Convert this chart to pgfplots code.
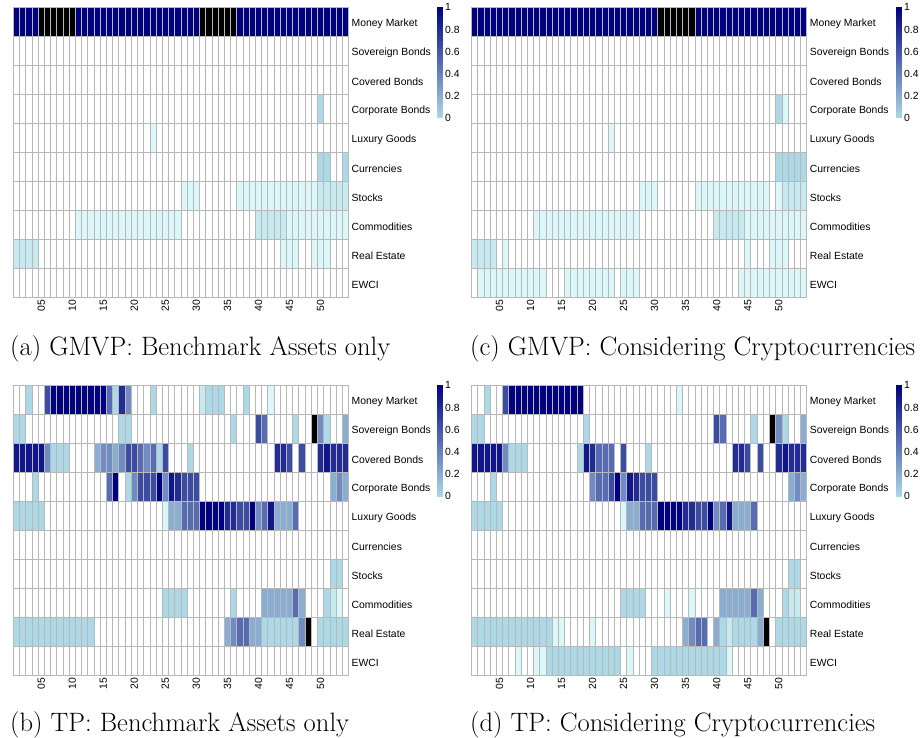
\documentclass[border=0pt]{standalone}
\usepackage{fontspec}
\setsansfont{Liberation Sans}
\usepackage{pgfplots}
\usepackage{pgfplotstable}
\pgfplotsset{compat=1.18}

% colour index: 0 white, 1-2 pale cyan, 3-10 lightblue -> navy, 11 black
\pgfplotsset{
  colormap={cells}{rgb255=(255,255,255) rgb255=(220,247,250) rgb255=(199,233,240)
    rgb255=(173,216,230) rgb255=(138,173,210) rgb255=(112,140,194) rgb255=(87,108,179)
    rgb255=(61,76,163) rgb255=(35,43,148) rgb255=(17,22,138) rgb255=(0,0,128) rgb255=(0,0,0)},
  colormap={cbar}{rgb255=(173,216,230) rgb255=(0,0,128)},
  heat/.style={
    scale only axis, width=335.2pt, height=289.7pt, anchor=north west,
    xmin=0.5, xmax=54.5, ymin=0.5, ymax=10.5, y dir=reverse,
    xtick={5,10,...,50}, xticklabels={05,10,15,20,25,30,35,40,45,50},
    ytick={1,...,10},
    yticklabels={Money Market,Sovereign Bonds,Covered Bonds,Corporate Bonds,Luxury Goods,
      Currencies,Stocks,Commodities,Real Estate,EWCI},
    yticklabel pos=right,
    tick label style={font=\sffamily\fontsize{10.4}{12}\selectfont},
    xticklabel style={rotate=90, anchor=east, inner sep=0pt},
    yticklabel style={anchor=west, inner sep=0pt, yshift=-2pt},
    xticklabel shift=3pt, yticklabel shift=3pt,
    major tick length=0pt, minor tick length=0pt, tick style={draw=none},
    minor xtick={0.5,1.5,...,54.5}, minor ytick={0.5,1.5,...,10.5},
    xminorgrids, yminorgrids,
    minor grid style={black!28, line width=0.7pt},
    axis line style={black!28, line width=0.7pt},
    axis on top,
    colormap name=cells, point meta min=0, point meta max=11,
  },
  cb/.style={
    scale only axis, width=5pt, height=110.7pt, anchor=north west,
    xmin=0, xmax=1, ymin=0, ymax=1,
    xtick=\empty, ytick={0,0.2,0.4,0.6,0.8,1}, yticklabels={0,0.2,0.4,0.6,0.8,1},
    yticklabel pos=right, axis line style={draw=none},
    major tick length=0pt, tick style={draw=none},
    tick label style={font=\sffamily\fontsize{10.4}{12}\selectfont},
    yticklabel style={anchor=west, inner sep=0pt}, yticklabel shift=3pt,
    colormap name=cbar, point meta min=0, point meta max=1,
  },
}

% one value per cell, rows of the heatmap top to bottom, 54 periods each
\pgfplotstableread[header=false, row sep=\\]{
% Money Market
10\\10\\10\\10\\11\\11\\11\\11\\11\\
11\\10\\10\\10\\10\\10\\10\\10\\10\\
10\\10\\10\\10\\10\\10\\10\\10\\10\\
10\\10\\10\\11\\11\\11\\11\\11\\11\\
10\\10\\10\\10\\10\\10\\10\\10\\10\\
10\\10\\10\\10\\10\\10\\10\\10\\10\\
% Sovereign Bonds
0\\0\\0\\0\\0\\0\\0\\0\\0\\
0\\0\\0\\0\\0\\0\\0\\0\\0\\
0\\0\\0\\0\\0\\0\\0\\0\\0\\
0\\0\\0\\0\\0\\0\\0\\0\\0\\
0\\0\\0\\0\\0\\0\\0\\0\\0\\
0\\0\\0\\0\\0\\0\\0\\0\\0\\
% Covered Bonds
0\\0\\0\\0\\0\\0\\0\\0\\0\\
0\\0\\0\\0\\0\\0\\0\\0\\0\\
0\\0\\0\\0\\0\\0\\0\\0\\0\\
0\\0\\0\\0\\0\\0\\0\\0\\0\\
0\\0\\0\\0\\0\\0\\0\\0\\0\\
0\\0\\0\\0\\0\\0\\0\\0\\0\\
% Corporate Bonds
0\\0\\0\\0\\0\\0\\0\\0\\0\\
0\\0\\0\\0\\0\\0\\0\\0\\0\\
0\\0\\0\\0\\0\\0\\0\\0\\0\\
0\\0\\0\\0\\0\\0\\0\\0\\0\\
0\\0\\0\\0\\0\\0\\0\\0\\0\\
0\\0\\0\\0\\3\\0\\0\\0\\0\\
% Luxury Goods
0\\0\\0\\0\\0\\0\\0\\0\\0\\
0\\0\\0\\0\\0\\0\\0\\0\\0\\
0\\0\\0\\0\\1\\0\\0\\0\\0\\
0\\0\\0\\0\\0\\0\\0\\0\\0\\
0\\0\\0\\0\\0\\0\\0\\0\\0\\
0\\0\\0\\0\\0\\0\\0\\0\\0\\
% Currencies
0\\0\\0\\0\\0\\0\\0\\0\\0\\
0\\0\\0\\0\\0\\0\\0\\0\\0\\
0\\0\\0\\0\\0\\0\\0\\0\\0\\
0\\0\\0\\0\\0\\0\\0\\0\\0\\
0\\0\\0\\0\\0\\0\\0\\0\\0\\
0\\0\\0\\0\\3\\3\\0\\0\\3\\
% Stocks
0\\0\\0\\0\\0\\0\\0\\0\\0\\
0\\0\\0\\0\\0\\0\\0\\0\\0\\
0\\0\\0\\0\\0\\0\\0\\0\\0\\
1\\1\\1\\0\\0\\0\\0\\0\\0\\
1\\1\\1\\1\\1\\1\\1\\1\\1\\
1\\1\\1\\1\\2\\2\\2\\2\\2\\
% Commodities
0\\0\\0\\0\\0\\0\\0\\0\\0\\
0\\1\\1\\1\\1\\1\\1\\1\\1\\
1\\1\\1\\1\\1\\1\\1\\1\\1\\
0\\0\\0\\0\\0\\0\\0\\0\\0\\
0\\0\\0\\2\\2\\2\\2\\2\\1\\
1\\1\\1\\1\\1\\1\\1\\1\\1\\
% Real Estate
2\\2\\2\\2\\0\\0\\0\\0\\0\\
0\\0\\0\\0\\0\\0\\0\\0\\0\\
0\\0\\0\\0\\0\\0\\0\\0\\0\\
0\\0\\0\\0\\0\\0\\0\\0\\0\\
0\\0\\0\\0\\0\\0\\0\\1\\1\\
1\\0\\0\\1\\1\\1\\0\\0\\0\\
% EWCI
0\\0\\0\\0\\0\\0\\0\\0\\0\\
0\\0\\0\\0\\0\\0\\0\\0\\0\\
0\\0\\0\\0\\0\\0\\0\\0\\0\\
0\\0\\0\\0\\0\\0\\0\\0\\0\\
0\\0\\0\\0\\0\\0\\0\\0\\0\\
0\\0\\0\\0\\0\\0\\0\\0\\0\\
}\tabA

\pgfplotstableread[header=false, row sep=\\]{
% Money Market
0\\0\\3\\0\\0\\7\\10\\10\\10\\
10\\10\\10\\10\\10\\10\\6\\3\\8\\
5\\0\\0\\0\\3\\0\\0\\0\\0\\
0\\0\\0\\2\\3\\3\\3\\0\\0\\
0\\3\\0\\0\\0\\1\\0\\0\\0\\
0\\0\\0\\0\\0\\0\\0\\0\\0\\
% Sovereign Bonds
3\\3\\0\\0\\0\\0\\0\\0\\0\\
0\\0\\0\\0\\0\\0\\0\\0\\3\\
3\\0\\0\\0\\0\\0\\0\\0\\0\\
0\\0\\0\\0\\0\\0\\0\\0\\3\\
0\\0\\0\\7\\6\\0\\0\\0\\0\\
3\\0\\0\\11\\5\\3\\0\\0\\4\\
% Covered Bonds
9\\9\\9\\9\\9\\5\\3\\3\\3\\
0\\0\\0\\0\\4\\5\\5\\4\\5\\
7\\7\\6\\5\\6\\3\\7\\0\\0\\
0\\3\\0\\0\\0\\0\\0\\0\\0\\
0\\0\\0\\0\\0\\0\\8\\8\\7\\
0\\7\\0\\0\\8\\9\\8\\8\\8\\
% Corporate Bonds
0\\0\\0\\3\\0\\0\\0\\0\\0\\
0\\0\\0\\0\\0\\0\\6\\10\\0\\
3\\5\\7\\7\\7\\10\\5\\9\\8\\
7\\7\\7\\0\\0\\0\\0\\0\\0\\
0\\0\\0\\0\\0\\0\\0\\0\\0\\
0\\0\\0\\0\\0\\0\\4\\5\\4\\
% Luxury Goods
3\\3\\3\\3\\3\\0\\0\\0\\0\\
0\\0\\0\\0\\0\\0\\0\\0\\0\\
0\\0\\0\\0\\0\\0\\1\\4\\4\\
6\\6\\6\\10\\10\\10\\10\\8\\8\\
7\\7\\10\\5\\6\\9\\4\\4\\4\\
6\\0\\0\\0\\0\\0\\0\\0\\0\\
% Currencies
0\\0\\0\\0\\0\\0\\0\\0\\0\\
0\\0\\0\\0\\0\\0\\0\\0\\0\\
0\\0\\0\\0\\0\\0\\0\\0\\0\\
0\\0\\0\\0\\0\\0\\0\\0\\0\\
0\\0\\0\\0\\0\\0\\0\\0\\0\\
0\\0\\0\\0\\0\\0\\0\\0\\0\\
% Stocks
0\\0\\0\\0\\0\\0\\0\\0\\0\\
0\\0\\0\\0\\0\\0\\0\\0\\0\\
0\\0\\0\\0\\0\\0\\0\\0\\0\\
0\\0\\0\\0\\0\\0\\0\\0\\0\\
0\\0\\0\\0\\0\\0\\0\\0\\0\\
0\\0\\0\\0\\0\\0\\3\\3\\0\\
% Commodities
0\\0\\0\\0\\0\\0\\0\\0\\0\\
0\\0\\0\\0\\0\\0\\0\\0\\0\\
0\\0\\0\\0\\0\\0\\3\\3\\3\\
3\\0\\0\\0\\0\\0\\0\\0\\3\\
0\\0\\0\\0\\4\\4\\4\\4\\4\\
6\\4\\0\\0\\0\\3\\2\\1\\0\\
% Real Estate
3\\3\\3\\3\\3\\3\\3\\3\\3\\
3\\3\\3\\3\\0\\0\\0\\0\\0\\
0\\0\\0\\0\\0\\0\\0\\0\\0\\
0\\0\\0\\0\\0\\0\\0\\4\\5\\
6\\6\\4\\4\\3\\3\\3\\3\\3\\
3\\5\\11\\0\\3\\3\\3\\3\\3\\
% EWCI
0\\0\\0\\0\\0\\0\\0\\0\\0\\
0\\0\\0\\0\\0\\0\\0\\0\\0\\
0\\0\\0\\0\\0\\0\\0\\0\\0\\
0\\0\\0\\0\\0\\0\\0\\0\\0\\
0\\0\\0\\0\\0\\0\\0\\0\\0\\
0\\0\\0\\0\\0\\0\\0\\0\\0\\
}\tabB

\pgfplotstableread[header=false, row sep=\\]{
% Money Market
10\\10\\10\\10\\10\\10\\10\\10\\10\\
10\\10\\10\\10\\10\\10\\10\\10\\10\\
10\\10\\10\\10\\10\\10\\10\\10\\10\\
10\\10\\10\\11\\11\\11\\11\\11\\11\\
10\\10\\10\\10\\10\\10\\10\\10\\10\\
10\\10\\10\\10\\10\\10\\10\\10\\10\\
% Sovereign Bonds
0\\0\\0\\0\\0\\0\\0\\0\\0\\
0\\0\\0\\0\\0\\0\\0\\0\\0\\
0\\0\\0\\0\\0\\0\\0\\0\\0\\
0\\0\\0\\0\\0\\0\\0\\0\\0\\
0\\0\\0\\0\\0\\0\\0\\0\\0\\
0\\0\\0\\0\\0\\0\\0\\0\\0\\
% Covered Bonds
0\\0\\0\\0\\0\\0\\0\\0\\0\\
0\\0\\0\\0\\0\\0\\0\\0\\0\\
0\\0\\0\\0\\0\\0\\0\\0\\0\\
0\\0\\0\\0\\0\\0\\0\\0\\0\\
0\\0\\0\\0\\0\\0\\0\\0\\0\\
0\\0\\0\\0\\0\\0\\0\\0\\0\\
% Corporate Bonds
0\\0\\0\\0\\0\\0\\0\\0\\0\\
0\\0\\0\\0\\0\\0\\0\\0\\0\\
0\\0\\0\\0\\0\\0\\0\\0\\0\\
0\\0\\0\\0\\0\\0\\0\\0\\0\\
0\\0\\0\\0\\0\\0\\0\\0\\0\\
0\\0\\0\\0\\3\\1\\0\\0\\0\\
% Luxury Goods
0\\0\\0\\0\\0\\0\\0\\0\\0\\
0\\0\\0\\0\\0\\0\\0\\0\\0\\
0\\0\\0\\0\\1\\0\\0\\0\\0\\
0\\0\\0\\0\\0\\0\\0\\0\\0\\
0\\0\\0\\0\\0\\0\\0\\0\\0\\
0\\0\\0\\0\\0\\0\\0\\0\\0\\
% Currencies
0\\0\\0\\0\\0\\0\\0\\0\\0\\
0\\0\\0\\0\\0\\0\\0\\0\\0\\
0\\0\\0\\0\\0\\0\\0\\0\\0\\
0\\0\\0\\0\\0\\0\\0\\0\\0\\
0\\0\\0\\0\\0\\0\\0\\0\\0\\
0\\0\\0\\0\\3\\3\\3\\3\\3\\
% Stocks
0\\0\\0\\0\\0\\0\\0\\0\\0\\
0\\0\\0\\0\\0\\0\\0\\0\\0\\
0\\0\\0\\0\\0\\0\\0\\0\\0\\
1\\1\\1\\0\\0\\0\\0\\0\\0\\
1\\1\\1\\1\\1\\1\\1\\1\\1\\
1\\1\\1\\0\\1\\2\\2\\2\\2\\
% Commodities
0\\0\\0\\0\\0\\0\\0\\0\\0\\
0\\1\\1\\1\\1\\1\\1\\1\\1\\
1\\1\\1\\1\\1\\1\\1\\1\\1\\
0\\0\\0\\0\\0\\0\\0\\0\\0\\
0\\0\\0\\2\\2\\2\\2\\2\\1\\
1\\1\\1\\1\\1\\1\\1\\1\\1\\
% Real Estate
2\\2\\2\\2\\0\\1\\0\\0\\0\\
0\\0\\0\\0\\0\\0\\0\\0\\0\\
0\\0\\0\\0\\0\\0\\0\\0\\0\\
0\\0\\0\\0\\0\\0\\0\\0\\0\\
0\\0\\0\\0\\0\\0\\0\\0\\1\\
0\\0\\0\\1\\1\\1\\0\\0\\0\\
% EWCI
0\\1\\1\\1\\1\\1\\1\\1\\1\\
1\\1\\1\\0\\0\\0\\1\\1\\1\\
1\\1\\1\\1\\1\\0\\1\\1\\1\\
0\\0\\0\\0\\0\\0\\0\\0\\0\\
0\\0\\0\\0\\0\\0\\0\\1\\1\\
1\\1\\1\\1\\1\\1\\1\\1\\1\\
}\tabC

\pgfplotstableread[header=false, row sep=\\]{
% Money Market
0\\0\\3\\0\\0\\7\\10\\10\\10\\
10\\10\\10\\10\\10\\10\\10\\10\\10\\
0\\0\\0\\0\\0\\0\\0\\0\\0\\
0\\0\\0\\0\\0\\0\\1\\0\\0\\
0\\0\\0\\0\\0\\0\\0\\0\\0\\
0\\0\\0\\0\\0\\0\\0\\0\\0\\
% Sovereign Bonds
3\\3\\0\\0\\0\\0\\0\\0\\0\\
0\\0\\0\\0\\0\\0\\0\\0\\0\\
3\\0\\0\\0\\0\\0\\0\\0\\0\\
0\\0\\0\\0\\0\\0\\0\\0\\0\\
0\\0\\0\\7\\6\\0\\0\\0\\0\\
3\\0\\0\\11\\5\\3\\0\\0\\4\\
% Covered Bonds
9\\9\\9\\9\\9\\5\\3\\3\\3\\
0\\0\\0\\0\\0\\0\\0\\0\\3\\
9\\8\\6\\6\\6\\0\\7\\0\\0\\
0\\3\\0\\0\\0\\0\\0\\0\\0\\
0\\0\\0\\0\\0\\0\\8\\8\\7\\
0\\7\\0\\0\\8\\9\\8\\8\\8\\
% Corporate Bonds
0\\0\\0\\3\\0\\0\\0\\0\\0\\
0\\0\\0\\0\\0\\0\\0\\0\\0\\
0\\5\\6\\6\\7\\10\\5\\9\\8\\
7\\7\\7\\0\\0\\0\\0\\0\\0\\
0\\0\\0\\0\\0\\0\\0\\0\\0\\
0\\0\\0\\0\\0\\0\\4\\5\\4\\
% Luxury Goods
3\\3\\3\\3\\3\\0\\0\\0\\0\\
0\\0\\0\\0\\0\\0\\0\\0\\0\\
0\\0\\0\\0\\0\\0\\1\\4\\4\\
6\\6\\6\\10\\10\\10\\10\\8\\8\\
7\\7\\10\\5\\6\\9\\4\\4\\4\\
6\\0\\0\\0\\0\\0\\0\\0\\0\\
% Currencies
0\\0\\0\\0\\0\\0\\0\\0\\0\\
0\\0\\0\\0\\0\\0\\0\\0\\0\\
0\\0\\0\\0\\0\\0\\0\\0\\0\\
0\\0\\0\\0\\0\\0\\0\\0\\0\\
0\\0\\0\\0\\0\\0\\0\\0\\0\\
0\\0\\0\\0\\0\\0\\0\\0\\0\\
% Stocks
0\\0\\0\\0\\0\\0\\0\\0\\0\\
0\\0\\0\\0\\0\\0\\0\\0\\0\\
0\\0\\0\\0\\0\\0\\0\\0\\0\\
0\\0\\0\\0\\0\\0\\0\\0\\0\\
0\\0\\0\\0\\0\\0\\0\\0\\0\\
0\\0\\0\\0\\0\\0\\3\\3\\0\\
% Commodities
0\\0\\0\\0\\0\\0\\0\\0\\0\\
0\\0\\0\\0\\0\\0\\0\\0\\0\\
0\\0\\0\\0\\0\\0\\3\\3\\3\\
3\\0\\0\\0\\1\\0\\0\\0\\1\\
0\\0\\0\\0\\4\\4\\4\\4\\4\\
6\\4\\0\\0\\0\\3\\2\\2\\0\\
% Real Estate
3\\3\\3\\3\\3\\3\\3\\3\\3\\
3\\3\\3\\3\\1\\1\\0\\0\\0\\
0\\1\\0\\0\\0\\0\\0\\0\\0\\
0\\0\\0\\0\\0\\0\\0\\4\\5\\
6\\6\\0\\4\\3\\2\\3\\3\\3\\
3\\4\\11\\0\\3\\3\\3\\3\\3\\
% EWCI
0\\0\\0\\0\\0\\0\\0\\1\\0\\
0\\1\\1\\3\\3\\3\\3\\3\\3\\
3\\3\\3\\3\\3\\3\\0\\1\\0\\
0\\0\\3\\3\\3\\3\\3\\3\\3\\
3\\3\\3\\3\\3\\1\\0\\0\\0\\
0\\0\\0\\0\\0\\0\\0\\0\\0\\
}\tabD

% cell k of the list: row floor(k/54)+1, column k mod 54 + 1 (computed without inexact division)
\newcommand\heatmap[1]{%
  \addplot[matrix plot*, mesh/cols=54, point meta=explicit]
    table[x index=0, y index=0, meta index=0,
      x expr={\coordindex+1-54*floor((\coordindex+0.5)/54)},
      y expr={floor((\coordindex+0.5)/54)+1}] {#1};}
\newcommand\gradient{%
  \addplot[surf, shader=interp, mesh/cols=2, point meta=y] coordinates {(0,0) (1,0) (0,1) (1,1)};}

\begin{document}
\begin{tikzpicture}
\useasboundingbox (0,0) rectangle (921pt,-738pt);

\begin{axis}[heat, at={(13.3pt,-7.3pt)}]
\heatmap{\tabA}
\end{axis}
\begin{axis}[cb, at={(437pt,-7.3pt)}]
\gradient
\end{axis}

\begin{axis}[heat, at={(471.5pt,-7.3pt)}]
\heatmap{\tabC}
\end{axis}
\begin{axis}[cb, at={(896pt,-7.3pt)}]
\gradient
\end{axis}

\begin{axis}[heat, at={(13.3pt,-385.3pt)}]
\heatmap{\tabB}
\end{axis}
\begin{axis}[cb, at={(437pt,-385.3pt)}]
\gradient
\end{axis}

\begin{axis}[heat, at={(471.5pt,-385.3pt)}]
\heatmap{\tabD}
\end{axis}
\begin{axis}[cb, at={(896pt,-385.3pt)}]
\gradient
\end{axis}

\begin{scope}[every node/.style={anchor=base west, inner sep=0pt, font=\fontsize{26.6}{30}\selectfont}]
\node at (10pt,-355pt) {(a) GMVP: Benchmark Assets only};
\node at (470pt,-355pt) {(c) GMVP: Considering Cryptocurrencies};
\node at (10pt,-731pt) {(b) TP: Benchmark Assets only};
\node at (470pt,-731pt) {(d) TP: Considering Cryptocurrencies};
\end{scope}
\end{tikzpicture}
\end{document}
